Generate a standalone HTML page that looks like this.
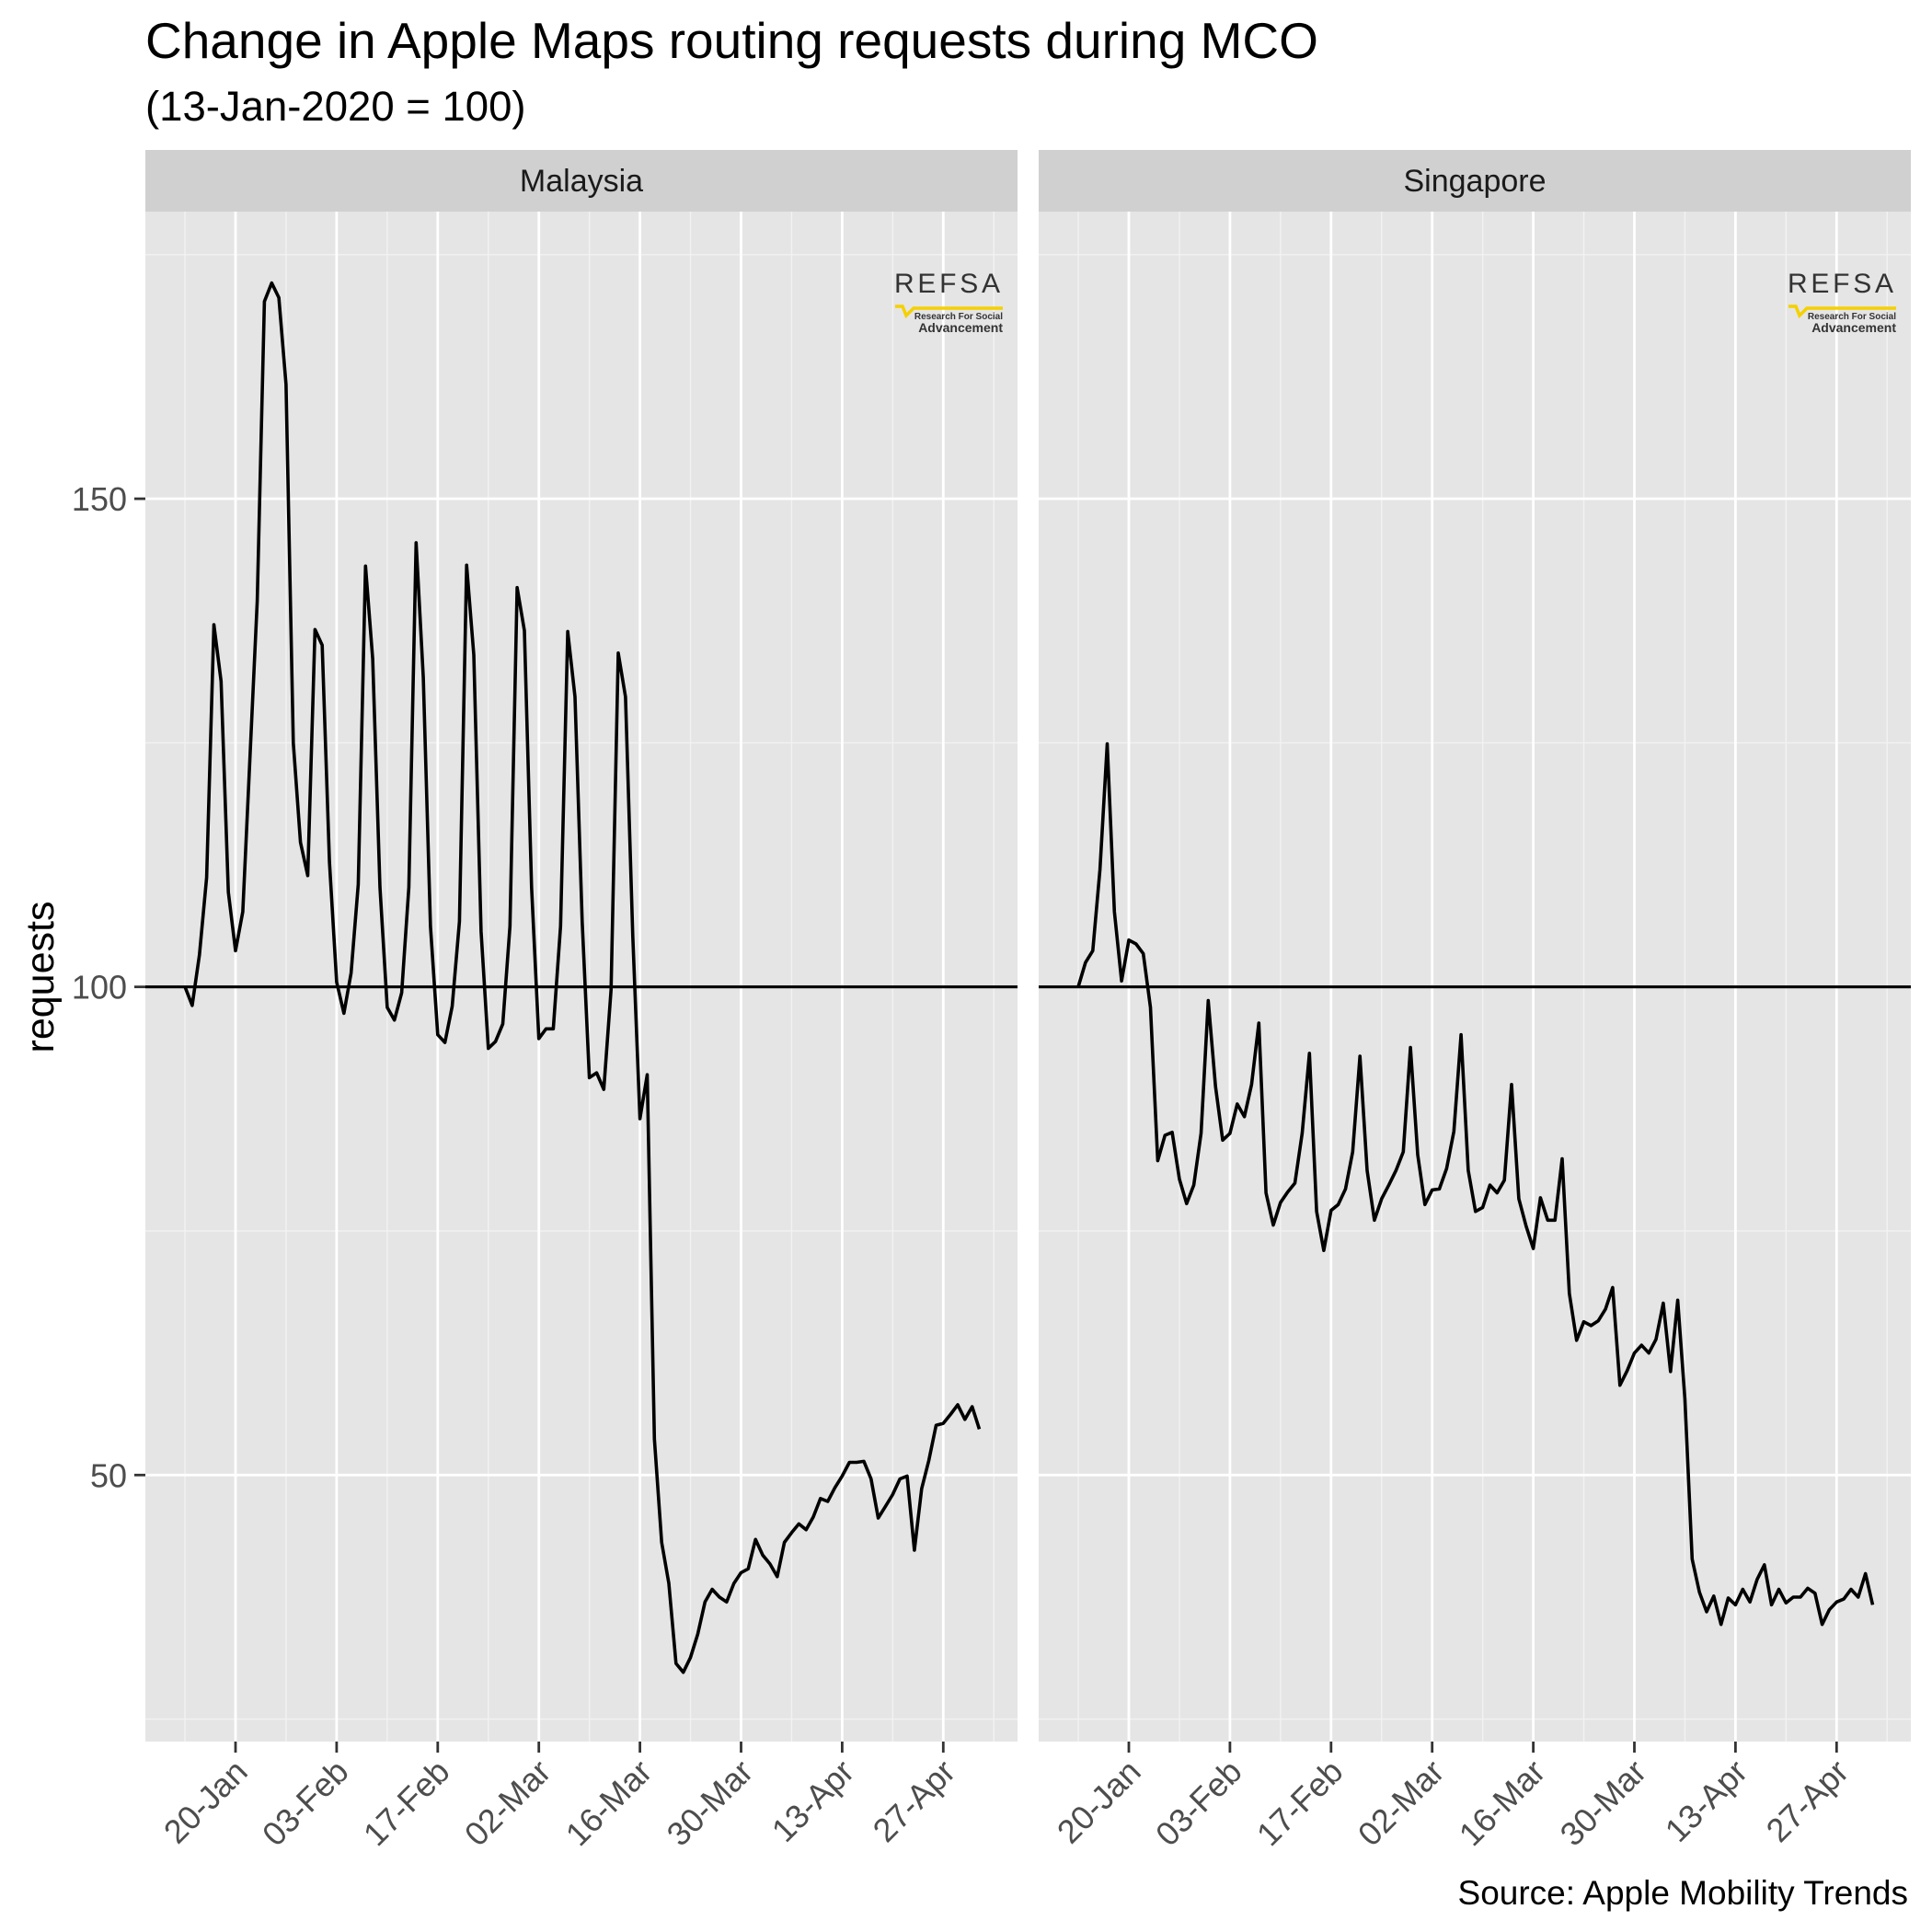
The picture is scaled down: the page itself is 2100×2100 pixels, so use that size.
<!DOCTYPE html>
<html><head><meta charset="utf-8"><style>
html,body{margin:0;padding:0;background:#fff;}
svg{display:block;font-family:"Liberation Sans",Arial,sans-serif;}
</style></head><body>
<svg id="chart" width="2100" height="2100" viewBox="0 0 2100 2100" xmlns="http://www.w3.org/2000/svg">
<text x="158" y="63" font-size="55" fill="#000">Change in Apple Maps routing requests during MCO</text>
<text x="158" y="131" font-size="45.5" fill="#000">(13-Jan-2020 = 100)</text>
<text transform="translate(58,1062) rotate(-90)" text-anchor="middle" font-size="43" fill="#000">requests</text>
<text x="2074" y="2070" text-anchor="end" font-size="37" fill="#000">Source: Apple Mobility Trends</text>
<g id="panels"></g>
</svg>
<script>
const categories = ["Malaysia", "Singapore"];
const tickLabels = ["20-Jan","03-Feb","17-Feb","02-Mar","16-Mar","30-Mar","13-Apr","27-Apr"];
const tickDays = [7,21,35,49,63,77,91,105];
const yTicks = [50,100,150];
const yMinor = [25,75,125,175];
const malaysia = [100,98.1,103.3,111.2,137.1,131.3,109.7,103.7,107.7,123.5,139.5,170.2,172.1,170.6,161.7,125,114.8,111.4,136.6,135,112.8,100.5,97.3,101.4,110.5,143.1,133.6,110.2,97.9,96.6,99.4,110.2,145.5,131.7,106.2,95.1,94.3,98,106.7,143.2,134,105.7,93.7,94.4,96.2,106.2,140.9,136.5,110.2,94.7,95.7,95.7,106.2,136.4,129.7,106.7,90.7,91.2,89.5,99.7,134.2,129.7,105.2,86.5,91,53.7,43.1,38.9,30.7,29.8,31.3,33.7,37,38.3,37.5,37,38.9,40,40.4,43.4,41.8,40.9,39.6,43.1,44.1,45,44.4,45.7,47.6,47.3,48.7,49.9,51.3,51.3,51.4,49.6,45.6,46.8,48,49.6,49.9,42.3,48.6,51.5,55.1,55.3,56.2,57.2,55.7,57,54.7];
const singapore = [100,102.5,103.7,112,124.9,107.7,100.6,104.8,104.4,103.4,97.9,82.2,84.8,85.1,80.3,77.8,79.7,85,98.6,89.8,84.3,85,88,86.7,90,96.3,78.9,75.6,77.9,79,79.9,85,93.2,77,73,77.1,77.7,79.3,83.1,92.9,81.2,76.1,78.3,79.7,81.2,83.1,93.8,82.8,77.7,79.2,79.3,81.4,85.2,95.1,81.2,77,77.4,79.7,78.9,80.2,90,78.3,75.5,73.2,78.4,76.1,76.1,82.4,68.6,63.8,65.7,65.3,65.8,67,69.2,59.2,60.7,62.5,63.3,62.5,63.9,67.6,60.6,67.9,57.8,41.4,38,36,37.6,34.7,37.4,36.7,38.3,37,39.3,40.8,36.7,38.3,36.9,37.5,37.5,38.4,37.9,34.7,36.2,37,37.3,38.3,37.5,39.9,36.7];
const seriesList = [malaysia, singapore];

const NS = "http://www.w3.org/2000/svg";
const panelLefts = [158, 1129];
const panelW = 948, stripTop = 163, stripBot = 230, panelBot = 1893;
const dayPx = 7.85, firstDayOffset = 43.05;
function xScale(p, d){ return panelLefts[p] + firstDayOffset + d*dayPx; }
function yScale(v){ return 1072.7 - (v-100)*10.612; }
function mk(tag, attrs, parent){ const e=document.createElementNS(NS,tag); for(const k in attrs) e.setAttribute(k, attrs[k]); parent.appendChild(e); return e; }
const root = document.getElementById('panels');

categories.forEach((name, p) => {
  const L = panelLefts[p];
  const g = mk('g', {}, root);
  
  
  const strip = mk('rect', {x:L, y:stripTop, width:panelW, height:stripBot-stripTop, fill:'#d0d0d0'}, g);
  
  
  const st = mk('text', {x:L+panelW/2, y:208, 'text-anchor':'middle', 'font-size':34, fill:'#1a1a1a'}, g);
  st.textContent = name;
  
  
  const bg = mk('rect', {x:L, y:stripBot, width:panelW, height:panelBot-stripBot, fill:'#e5e5e5'}, g);
  
  
  yMinor.forEach(v => {
    const l = mk('line', {x1:L, x2:L+panelW, y1:yScale(v), y2:yScale(v), stroke:'#f2f2f2', 'stroke-width':1.4}, g);
    
    
  });
  for (let d = 0; d <= 112; d += 14) {
    const x = xScale(p, d);
    if (x < L || x > L+panelW) continue;
    const l = mk('line', {x1:x, x2:x, y1:stripBot, y2:panelBot, stroke:'#f2f2f2', 'stroke-width':1.4}, g);
    
    
  }
  yTicks.forEach(v => {
    const l = mk('line', {x1:L, x2:L+panelW, y1:yScale(v), y2:yScale(v), stroke:'#fff', 'stroke-width':2.8}, g);
    
    
  });
  tickDays.forEach((d, i) => {
    const x = xScale(p, d);
    const l = mk('line', {x1:x, x2:x, y1:stripBot, y2:panelBot, stroke:'#fff', 'stroke-width':2.8}, g);
    
    
    const t = mk('line', {x1:x, x2:x, y1:panelBot, y2:panelBot+12, stroke:'#333', 'stroke-width':2.8}, g);
    
    
    const tx = mk('text', {transform:'translate('+(x+15)+',1928) rotate(-45)', 'text-anchor':'end', 'font-size':36, fill:'#4d4d4d'}, g);
    tx.textContent = tickLabels[i];
    
    
  });
  if (p === 0) {
    yTicks.forEach(v => {
      const t = mk('line', {x1:L-12, x2:L, y1:yScale(v), y2:yScale(v), stroke:'#333', 'stroke-width':2.8}, g);
      
      
      const tx = mk('text', {x:L-20, y:yScale(v)+13, 'text-anchor':'end', 'font-size':36, fill:'#4d4d4d'}, g);
      tx.textContent = String(v);
      
      
    });
  }
  const ref = mk('line', {x1:L, x2:L+panelW, y1:yScale(100), y2:yScale(100), stroke:'#000', 'stroke-width':3.2}, g);
  
  
  const pts = seriesList[p].map((v, d) => xScale(p, d).toFixed(1) + ',' + yScale(v).toFixed(1)).join(' ');
  const line = mk('polyline', {points:pts, fill:'none', stroke:'#000', 'stroke-width':3.6, 'stroke-linejoin':'round'}, g);
  
  
  const lg = mk('g', {transform:'translate(' + (L+815) + ',0)'}, g);
  
  
  const lt = mk('text', {x:-1, y:318, 'font-size':30, 'letter-spacing':3, fill:'#333', textLength:118}, lg);
  lt.textContent = 'REFSA';
  mk('polyline', {points:'0,333 8,333 12,343 20,335 117,335', fill:'none', stroke:'#f5d000', 'stroke-width':3.5}, lg);
  const l2 = mk('text', {x:117, y:347, 'text-anchor':'end', 'font-size':10, 'font-weight':'bold', fill:'#333'}, lg);
  l2.textContent = 'Research For Social';
  const l3 = mk('text', {x:117, y:361, 'text-anchor':'end', 'font-size':14, 'font-weight':'bold', fill:'#333'}, lg);
  l3.textContent = 'Advancement';
});
</script>
</body></html>
